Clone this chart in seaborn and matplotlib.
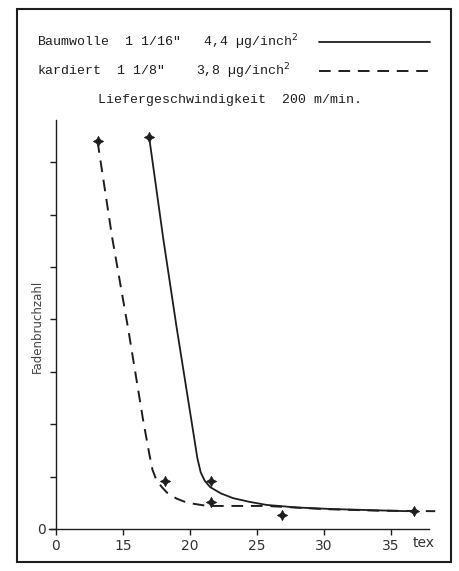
import matplotlib.pyplot as plt
import matplotlib.lines as mlines
import matplotlib.patches as mpatches
import pandas as pd
import seaborn as sns

# curves (x in tex, y in tick units)
solid_x = [16.95, 18.0, 19.0, 20.1, 20.55, 20.8, 21.1, 21.5, 22.3, 23.2, 24.4, 25.7, 28.0, 30.7, 33.5, 36.2]
solid_y = [7.48, 5.55, 3.85, 2.08, 1.35, 1.08, 0.92, 0.80, 0.68, 0.59, 0.52, 0.46, 0.41, 0.38, 0.36, 0.34]
dashed_x = [13.1, 14.2, 15.4, 16.5, 16.95, 17.2, 17.5, 17.9, 18.3, 19.0, 19.8, 21.3, 23.5, 25.7, 30.0, 34.0, 38.3]
dashed_y = [7.40, 5.55, 3.80, 2.08, 1.45, 1.13, 0.93, 0.80, 0.69, 0.58, 0.50, 0.44, 0.44, 0.44, 0.38, 0.35, 0.34]
pts_x = [16.95, 13.1, 18.1, 21.6, 21.6, 26.9, 36.7]
pts_y = [7.48, 7.40, 0.92, 0.92, 0.52, 0.27, 0.34]

xticks = [10, 15, 20, 25, 30, 35]
xtick_labels = ["0", "15", "20", "25", "30", "35"]
yticks = [0, 1, 2, 3, 4, 5, 6, 7]

sns.set_theme(style="white")
plt.rcParams["font.family"] = ["DejaVu Sans"]
ink = "#1e1e1e"

fig = plt.figure(figsize=(4.59, 5.71), dpi=100)
ax = fig.add_axes([49.3 / 459, 42 / 571, 388.6 / 459, 408.7 / 571])

solid = pd.DataFrame({"x": solid_x, "y": solid_y})
dashed = pd.DataFrame({"x": dashed_x, "y": dashed_y})
pts = pd.DataFrame({"x": pts_x, "y": pts_y})

sns.lineplot(data=solid, x="x", y="y", sort=False, color=ink, lw=1.3, ax=ax)
sns.lineplot(data=dashed, x="x", y="y", sort=False, color=ink, lw=1.4,
             linestyle=(0, (6, 4)), ax=ax)
sns.scatterplot(data=pts, x="x", y="y", marker=(4, 1, 0), s=55, color=ink,
                edgecolor=ink, linewidth=0.5, ax=ax, zorder=5)

ax.set_xlim(9.5, 38.5)
ax.set_ylim(0, 7.8)
ax.set_xlabel("")
ax.set_ylabel("")
for s in ["top", "right"]:
    ax.spines[s].set_visible(False)
ax.spines["left"].set_position(("data", 10))
ax.spines["bottom"].set_bounds(9.5, 37.8)
for s in ["left", "bottom"]:
    ax.spines[s].set_color(ink)
    ax.spines[s].set_linewidth(1.0)

ax.set_xticks(xticks)
ax.set_xticklabels(xtick_labels, fontsize=10, color="#333333")
ax.set_yticks(yticks)
ax.set_yticklabels(["0"] + [""] * (len(yticks) - 1), fontsize=10, color="#333333")
ax.tick_params(axis="both", direction="out", length=4, width=1.0, color=ink,
               left=True, bottom=True, pad=3)

ax.text(36.6, -0.14, "tex", ha="left", va="top", fontsize=10, color="#333333")
fig.text(37 / 459, 1 - 326 / 571, "Fadenbruchzahl", rotation=90, ha="center",
         va="center", fontsize=8.5, color="#444444")

# legend block at the top
mono = "Liberation Mono"
fig.text(37 / 459, 1 - 42 / 571, "Baumwolle  1 1/16\"   4,4 \u00b5g/inch$^2$",
         family=mono, fontsize=9.5, va="center", color=ink)
fig.text(37 / 459, 1 - 71 / 571, "kardiert  1 1/8\"    3,8 \u00b5g/inch$^2$",
         family=mono, fontsize=9.5, va="center", color=ink)
fig.text(230 / 459, 1 - 100 / 571, "Liefergeschwindigkeit  200 m/min.",
         family=mono, fontsize=9.5, ha="center", va="center", color=ink)
fig.add_artist(mlines.Line2D([319 / 459, 430 / 459], [1 - 42 / 571] * 2,
                             color=ink, lw=1.3))
fig.add_artist(mlines.Line2D([319 / 459, 430 / 459], [1 - 71 / 571] * 2,
                             color=ink, lw=1.4, linestyle=(0, (6, 4))))

# outer frame
fig.add_artist(mpatches.Rectangle((17 / 459, 9 / 571), 434 / 459, 553 / 571,
                                  fill=False, edgecolor=ink, lw=1.5,
                                  transform=fig.transFigure))

fig.savefig("out.png", dpi=100)
